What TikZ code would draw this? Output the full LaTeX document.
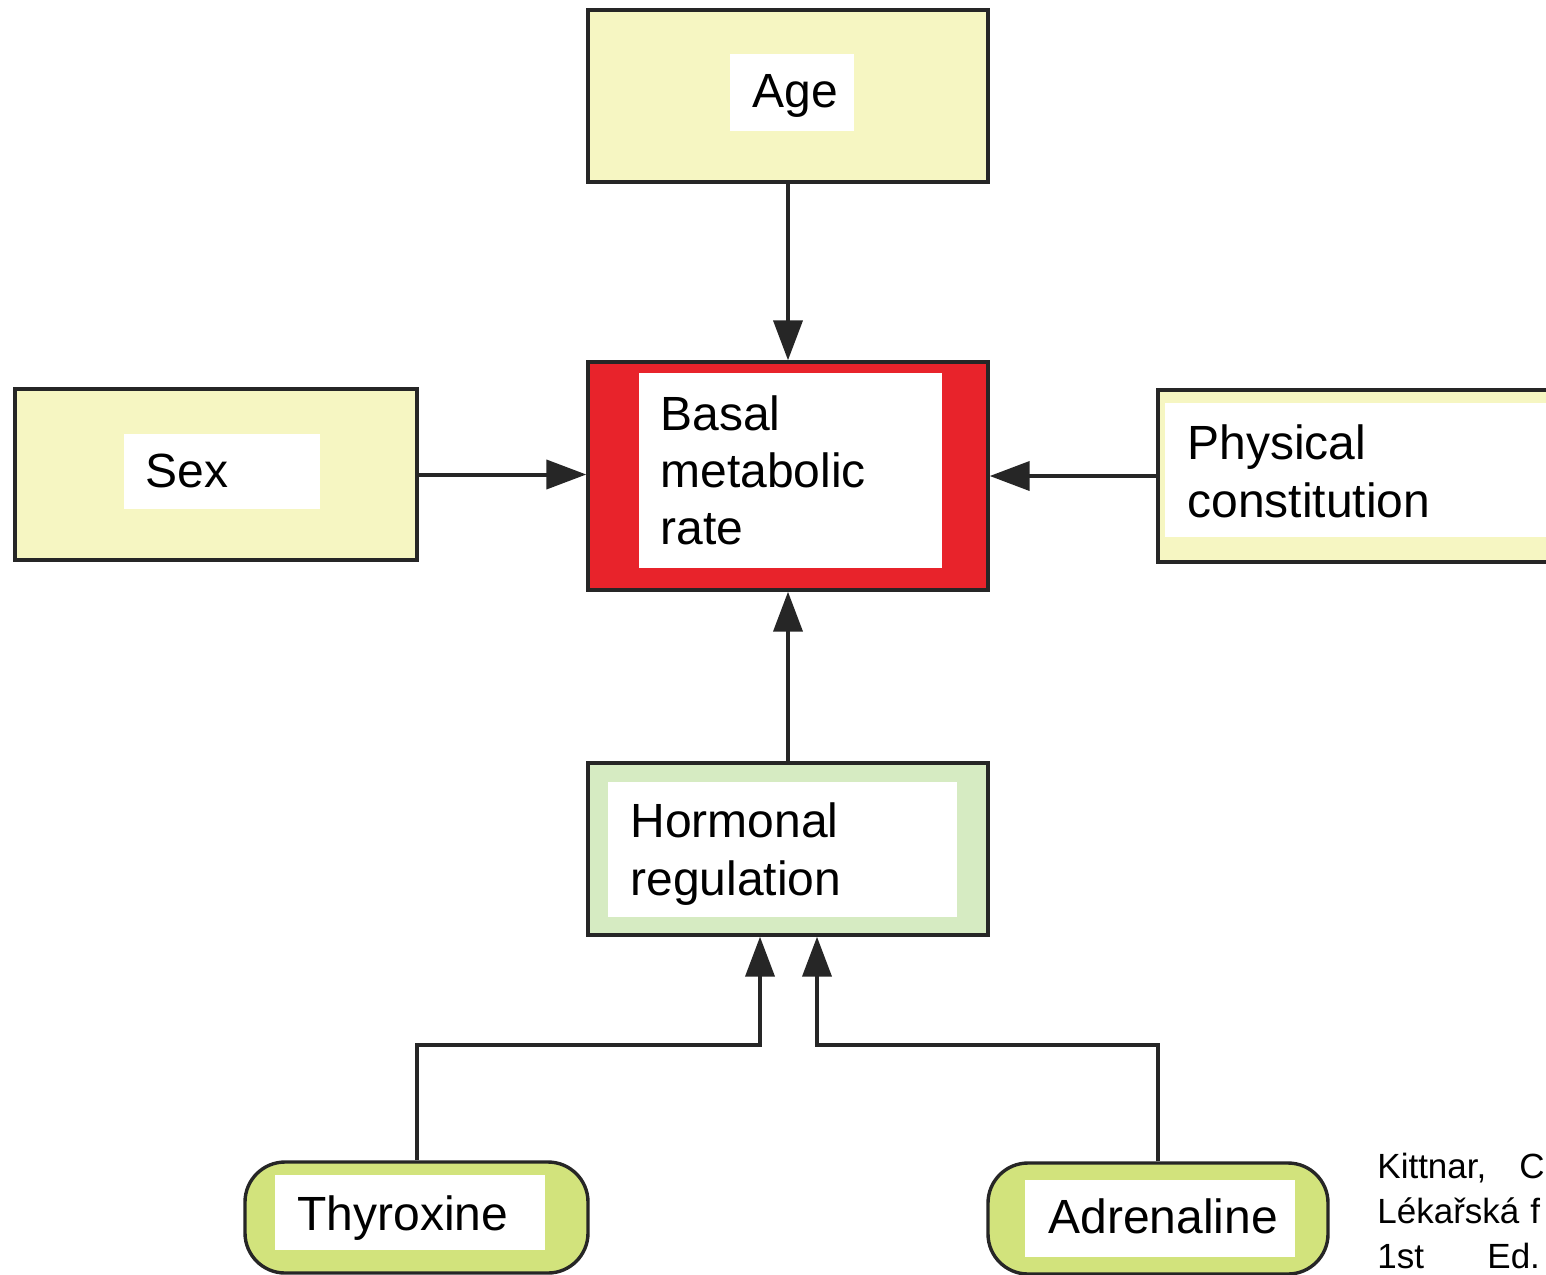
\documentclass[tikz,border=0pt]{standalone}
\usepackage{fontspec}
\setmainfont{Liberation Sans}
\usetikzlibrary{arrows.meta}
\definecolor{boxyellow}{HTML}{F6F6C2}
\definecolor{bmrred}{HTML}{E8232B}
\definecolor{hormgreen}{HTML}{D6EBC2}
\definecolor{pillgreen}{HTML}{D2E37C}
\definecolor{ink}{HTML}{262626}
\begin{document}
\begin{tikzpicture}[x=0.5pt,y=-0.5pt,
  outer/.style={draw=ink, line width=1.7pt, inner sep=0pt},
  pill/.style={outer, fill=pillgreen, rounded corners=20pt},
  lbl/.style={inner sep=0pt, anchor=base west, font=\fontsize{24}{29}\selectfont},
  cite/.style={inner sep=0pt, anchor=base west, font=\fontsize{17.5}{20}\selectfont},
  arr/.style={draw=ink, line width=2pt, -{Triangle[length=20pt,width=14.5pt]}},
]
\useasboundingbox (0,0) rectangle (1546,1274);
\clip (0,0) rectangle (1546,1274);
\fill[white] (0,0) rectangle (1546,1274);

% Age
\node[outer, fill=boxyellow, minimum width=200pt, minimum height=86pt] (age) at (788,96) {};
\fill[white] (730,54) rectangle (854,131);
\node[lbl] (tage) at (752,107) {Age};

% Sex
\node[outer, fill=boxyellow, minimum width=201pt, minimum height=85.5pt] (sex) at (216,474.5) {};
\fill[white] (124,434) rectangle (320,509);
\node[lbl] (tsex) at (145,487) {Sex};

% Basal metabolic rate
\node[outer, fill=bmrred, minimum width=200pt, minimum height=114pt] (bmr) at (788,476) {};
\fill[white] (639,373) rectangle (942,568);
\node[lbl] (tbmr1) at (660,430) {Basal};
\node[lbl] (tbmr2) at (660,487) {metabolic};
\node[lbl] (tbmr3) at (660,544) {rate};

% Physical constitution
\node[outer, fill=boxyellow, minimum width=206pt, minimum height=86pt] (phys) at (1364,476) {};
\fill[white] (1165,403) rectangle (1600,537);
\node[lbl] (tphys1) at (1187,459) {Physical};
\node[lbl] (tphys2) at (1187,517) {constitution};

% Hormonal regulation
\node[outer, fill=hormgreen, minimum width=200pt, minimum height=86pt] (horm) at (788,849) {};
\fill[white] (608,782) rectangle (957,917);
\node[lbl] (thorm1) at (630,837) {Hormonal};
\node[lbl] (thorm2) at (630,895) {regulation};

% Thyroxine
\node[pill, minimum width=171.5pt, minimum height=55.5pt] (thy) at (416.5,1217.5) {};
\fill[white] (275,1175) rectangle (545,1250);
\node[lbl] (tthy) at (297,1230) {Thyroxine};

% Adrenaline
\node[pill, minimum width=170pt, minimum height=55.5pt] (adr) at (1158,1218.5) {};
\fill[white] (1025,1180) rectangle (1295,1257);
\node[lbl] (tadr) at (1048,1233) {Adrenaline};

% Connectors
\draw[arr] (age.south) -- (bmr.north);
\draw[arr] (sex.east) -- (sex.east -| bmr.west);
\draw[arr] (phys.west) -- (phys.west -| bmr.east);
\draw[arr] (horm.north) -- (bmr.south);
\coordinate (jy) at (0,1045);
\draw[arr] (thy.north) -- (thy.north |- jy) -| ([xshift=-14pt]horm.south);
\draw[arr] (adr.north) -- (adr.north |- jy) -| ([xshift=14.5pt]horm.south);

% Citation (cropped in the reference)
\node[cite] (c1) at (1377,1178) {Kittnar,};
\node[cite] (c1b) at (1519,1178) {C};
\node[cite] (c2) at (1377,1223) {Lékařská};
\node[cite] (c2b) at (1530,1223) {f};
\node[cite] (c3) at (1377,1268) {1st};
\node[cite] (c3b) at (1487,1268) {Ed.};
\end{tikzpicture}
\end{document}
